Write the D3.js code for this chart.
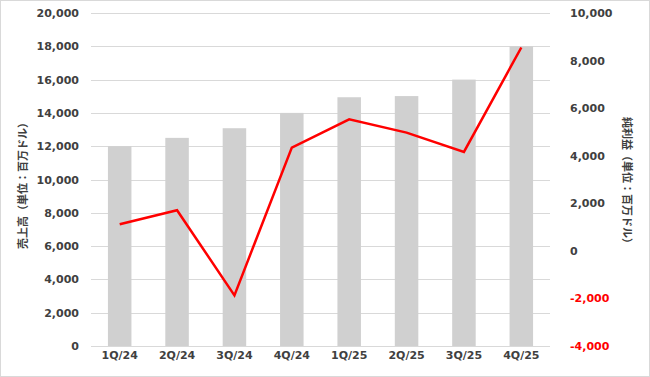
<!DOCTYPE html>
<html><head><meta charset="utf-8">
<script src="https://cdn.jsdelivr.net/npm/d3@7"></script>
<style>body{margin:0;background:#fff}svg{display:block}</style>
</head><body>
<script>
const categories = ["1Q/24","2Q/24","3Q/24","4Q/24","1Q/25","2Q/25","3Q/25","4Q/25"];
const revenue = [12000,12500,13080,14000,14940,15010,16000,18000];
const netIncome = [1120,1710,-1870,4340,5530,4970,4160,8550];
const leftTicks = [0,2000,4000,6000,8000,10000,12000,14000,16000,18000,20000];
const rightTicks = [-4000,-2000,0,2000,4000,6000,8000,10000];
const leftTitle = "売上高（単位：百万ドル）";
const rightTitle = "純利益（単位：百万ドル）";

const W=650,H=377;
const svg=d3.select("body").append("svg").attr("width",W).attr("height",H);
svg.append("rect").attr("x",0.5).attr("y",0.5).attr("width",W-1).attr("height",H-1)
  .attr("fill","#fff").attr("stroke","#d9d9d9");
const x=d3.scaleBand().domain(categories).range([91,550]).paddingInner(0.59).paddingOuter(0.295);
const yL=d3.scaleLinear().domain([0,20000]).range([346,13]);
const yR=d3.scaleLinear().domain([-4000,10000]).range([346,13]);
const font="'DejaVu Sans', Verdana, sans-serif";
const tc="#404040";

// gridlines
svg.append("g").selectAll("line").data(leftTicks).join("line")
  .attr("x1",91).attr("x2",550).attr("y1",d=>Math.round(yL(d))+0.5).attr("y2",d=>Math.round(yL(d))+0.5)
  .attr("stroke","#d9d9d9").attr("stroke-width",1);

// bars
svg.append("g").selectAll("rect").data(revenue).join("rect")
  .attr("x",(d,i)=>x(categories[i])).attr("width",x.bandwidth())
  .attr("y",d=>yL(d)).attr("height",d=>yL(0)-yL(d)).attr("fill","#d0d0d0");

// line
svg.append("path").datum(netIncome)
  .attr("d",d3.line().x((d,i)=>x(categories[i])+x.bandwidth()/2).y(d=>yR(d)))
  .attr("fill","none").attr("stroke","#ff0000").attr("stroke-width",2.5).attr("stroke-linejoin","miter");

// left axis
const axL=d3.axisLeft(yL).tickValues(leftTicks).tickSize(0).tickPadding(0).tickFormat(d3.format(","));
const gL=svg.append("g").attr("transform","translate(79,0)").call(axL);
gL.select(".domain").remove();
gL.selectAll("text").attr("font-family",font).attr("font-size",11).attr("font-weight","bold").attr("fill",tc);

// right axis
const axR=d3.axisRight(yR).tickValues(rightTicks).tickSize(0).tickPadding(0).tickFormat(d3.format(","));
const gR=svg.append("g").attr("transform","translate(570,0)").call(axR);
gR.select(".domain").remove();
gR.selectAll("text").attr("font-family",font).attr("font-size",11).attr("font-weight","bold")
  .attr("fill",d=>d<0?"#ff0000":tc).text(d=>d<0?"-"+d3.format(",")(-d):d3.format(",")(d));

// x axis
const axX=d3.axisBottom(x).tickSize(0).tickPadding(0);
const gX=svg.append("g").attr("transform","translate(0,349)").call(axX);
gX.select(".domain").remove();
gX.selectAll("text").attr("font-family",font).attr("font-size",11).attr("font-weight","bold").attr("fill",tc).attr("dy","0.95em");

// titles
svg.append("text").attr("transform","translate(27,183) rotate(-90)").attr("text-anchor","middle")
  .attr("font-family","'Noto Sans CJK JP', sans-serif").attr("font-size",11).attr("font-weight","bold").attr("fill",tc).text(leftTitle);
svg.append("text").attr("transform","translate(623,183) rotate(90)").attr("text-anchor","middle")
  .attr("font-family","'Noto Sans CJK JP', sans-serif").attr("font-size",11).attr("font-weight","bold").attr("fill",tc).text(rightTitle);
</script>
</body></html>
